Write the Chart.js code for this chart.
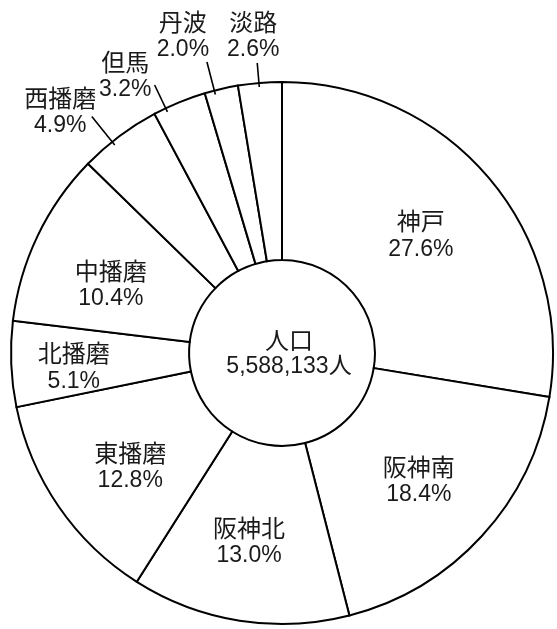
<!DOCTYPE html>
<html>
<head>
<meta charset="utf-8">
<script src="https://cdn.jsdelivr.net/npm/chart.js@4.4.1/dist/chart.umd.min.js"></script>
<style>
  html, body { margin: 0; padding: 0; background: #ffffff; }
  #wrap { width: 557px; height: 629px; }
</style>
</head>
<body>
<div id="wrap"><canvas id="c" width="557" height="629"></canvas></div>
<script>
// ---- data ----
const categories = ['神戸', '阪神南', '阪神北', '東播磨', '北播磨', '中播磨', '西播磨', '但馬', '丹波', '淡路'];
const shares = [27.6, 18.4, 13.0, 12.8, 5.1, 10.4, 4.9, 3.2, 2.0, 2.6];
const centerTitle = '人口';
const totalPopulation = 5588133;
const totalUnit = '人';

// ---- label layout (relative to each slice's mid-angle) ----
// r: label distance as a fraction of the outer radius, da: angle nudge in degrees
// line: [inner, outer] leader line radii (fractions), lda: leader angle nudge
const labelLayout = [
  { r: 0.672, da: 0 },
  { r: 0.69, da: 0.5 },
  { r: 0.708, da: 0.9 },
  { r: 0.70, da: -2.3 },
  { r: 0.77, da: -1.6 },
  { r: 0.68, da: -3.8 },
  { r: 1.209, da: -5.7, line: [0.985, 1.12], lda: -1.9 },
  { r: 1.174, da: -7.2, line: [0.985, 1.095], lda: -3.1 },
  { r: 1.226, da: -4.4, line: [0.985, 1.109], lda: -1.5 },
  { r: 1.175, da: -0.5, line: [0.985, 1.074], lda: -0.2 }
];

const CJK = "'Noto Sans CJK JP', 'Noto Sans CJK SC', sans-serif";
const NUM = "'Liberation Sans Narrow', 'Arial Narrow', 'Liberation Sans', " + CJK;
const TEXT_COLOR = '#1a1a1a';

const labelPlugin = {
  id: 'sliceLabels',
  afterDatasetsDraw(chart) {
    const ctx = chart.ctx;
    const meta = chart.getDatasetMeta(0);
    ctx.save();
    ctx.textAlign = 'center';
    ctx.textBaseline = 'middle';
    ctx.fillStyle = TEXT_COLOR;
    meta.data.forEach((arc, i) => {
      const p = arc.getProps(['x', 'y', 'startAngle', 'endAngle', 'outerRadius', 'innerRadius'], true);
      const mid = (p.startAngle + p.endAngle) / 2;
      const L = labelLayout[i];
      const a = mid + L.da * Math.PI / 180;
      const cx = p.x + Math.cos(a) * p.outerRadius * L.r;
      const cy = p.y + Math.sin(a) * p.outerRadius * L.r;
      if (L.line) {
        const la = mid + L.lda * Math.PI / 180;
        ctx.beginPath();
        ctx.strokeStyle = '#000';
        ctx.lineWidth = 1.6;
        ctx.moveTo(p.x + Math.cos(la) * p.outerRadius * L.line[0], p.y + Math.sin(la) * p.outerRadius * L.line[0]);
        ctx.lineTo(p.x + Math.cos(la) * p.outerRadius * L.line[1], p.y + Math.sin(la) * p.outerRadius * L.line[1]);
        ctx.stroke();
      }
      ctx.font = '24px ' + CJK;
      ctx.fillText(categories[i], cx, cy - 14);
      ctx.font = '23px ' + NUM;
      ctx.fillText(shares[i].toFixed(1) + '%', cx, cy + 14);
    });
    // center text
    const p0 = meta.data[0].getProps(['x', 'y'], true);
    ctx.font = '24px ' + CJK;
    ctx.fillText(centerTitle, p0.x + 7, p0.y - 13);
    ctx.font = '23px ' + NUM;
    ctx.fillText(totalPopulation.toLocaleString('en-US') + totalUnit, p0.x + 7, p0.y + 14);
    ctx.restore();
  }
};

new Chart(document.getElementById('c'), {
  type: 'doughnut',
  data: {
    labels: categories,
    datasets: [{
      data: shares,
      backgroundColor: '#ffffff',
      borderColor: '#000000',
      borderWidth: 2,
      borderJoinStyle: 'miter'
    }]
  },
  options: {
    responsive: false,
    animation: false,
    cutout: '34.3%',
    layout: { padding: { left: 10, right: 3, top: 81, bottom: 4 } },
    plugins: {
      legend: { display: false },
      tooltip: { enabled: false }
    }
  },
  plugins: [labelPlugin]
});
</script>
</body>
</html>
